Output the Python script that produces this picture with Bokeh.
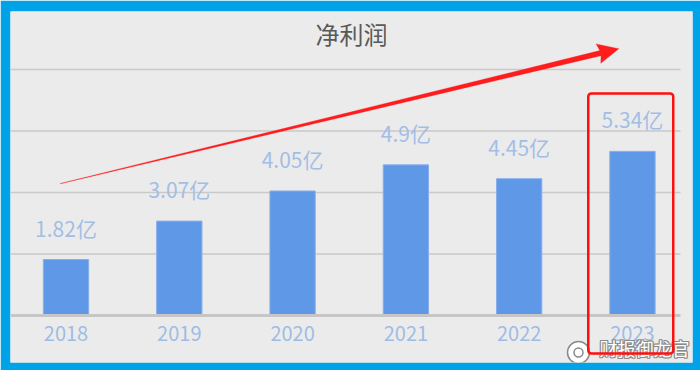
import math
from bokeh.plotting import figure
from bokeh.models import Range1d, BoxAnnotation, ColumnDataSource
from bokeh.core.properties import value
from bokeh.embed import file_html
from bokeh.resources import INLINE

# Net profit by year (unit: 亿 yuan)
years = ["2018", "2019", "2020", "2021", "2022", "2023"]
net_profit = [1.82, 3.07, 4.05, 4.9, 4.45, 5.34]
grid_values = [2, 4, 6, 8]
title_text = "净利润"
watermark = "财报御龙官"

value_labels = [f"{v:g}亿" for v in net_profit]
idx = list(range(len(years)))

FONT = value("Noto Sans CJK SC")
W, H = 700, 370
BL, BR, BT, BB = 10, 8, 11, 8
x0, x1 = -0.49, 5.53
y0, y1 = -1.53, 9.89
px_x = (W - BL - BR) / (x1 - x0)
px_y = (H - BT - BB) / (y1 - y0)

p = figure(width=W, height=H, output_backend="svg", toolbar_location=None,
           x_range=Range1d(x0, x1), y_range=Range1d(y0, y1),
           x_axis_type=None, y_axis_type=None,
           min_border_left=BL, min_border_right=BR,
           min_border_top=BT, min_border_bottom=BB,
           background_fill_color="#EBEBEB", border_fill_color="#00A3E8",
           outline_line_color=None)

# horizontal gridlines, stopping a little short of the right edge
grid_end = x1 - 12 / px_x
p.segment(x0=[x0] * len(grid_values), x1=[grid_end] * len(grid_values),
          y0=grid_values, y1=grid_values, line_color="#C9C9C9", line_width=1.5)

# bars
p.vbar(x=idx, top=net_profit, bottom=0, width=0.4,
       fill_color="#5E98E6", line_color="#88AFEA", line_width=1)

# baseline
p.segment(x0=[x0], x1=[grid_end], y0=[0], y1=[0], line_color="#C6C6C6", line_width=3)

# value labels above bars
p.text(x=idx, y=net_profit, text=value_labels, text_align="center",
       text_baseline="bottom", y_offset=-17, text_font=FONT,
       text_font_size="21px", text_color="#A3BEE5")

# year labels under the baseline
p.text(x=idx, y=[0] * len(idx), text=years, text_align="center",
       text_baseline="top", y_offset=11, text_font=FONT,
       text_font_size="20px", text_color="#9FBCE4")

# title
p.text(x=[(x0 + x1) / 2], y=[y1], text=[title_text], text_align="center",
       text_baseline="middle", y_offset=22, text_font=FONT,
       text_font_size="24px", text_color="#595959")

# tapered trend arrow
tail = (-0.05, 4.29)
tip = (4.88, 8.68)
tx, ty = tail[0] * px_x, tail[1] * px_y
hx, hy = tip[0] * px_x, tip[1] * px_y
L = math.hypot(hx - tx, hy - ty)
ux, uy = (hx - tx) / L, (hy - ty) / L
nx, ny = -uy, ux
head_len, head_half, shaft_tail, shaft_head = 19, 10, 0.2, 2.6
bx, by = hx - ux * head_len, hy - uy * head_len
pts = [
    (tx + nx * shaft_tail, ty + ny * shaft_tail),
    (bx + nx * shaft_head, by + ny * shaft_head),
    (bx + nx * head_half - ux * 2, by + ny * head_half - uy * 2),
    (hx, hy),
    (bx - nx * head_half - ux * 2, by - ny * head_half - uy * 2),
    (bx - nx * shaft_head, by - ny * shaft_head),
    (tx - nx * shaft_tail, ty - ny * shaft_tail),
]
p.patch(x=[a / px_x for a, _ in pts], y=[b / px_y for _, b in pts],
        fill_color="#FF1C1C", line_color="#FF1C1C", line_width=0.3)

# highlight box around the latest year
last = idx[-1]
p.add_layout(BoxAnnotation(left=last - 0.39, right=last + 0.36, top=7.22, bottom=-1.24,
                           fill_alpha=0, line_color="#FF1010", line_alpha=1.0,
                           line_width=2.5, border_radius=3))

# watermark: grey outline under white text
offs = [(-1, 0), (1, 0), (0, -1), (0, 1), (-1, -1), (1, 1), (-1, 1), (1, -1)]
wm = ColumnDataSource(dict(x=[x1] * len(offs), y=[y0] * len(offs), t=[watermark] * len(offs),
                           xo=[-3 + a for a, _ in offs], yo=[-2 + b for _, b in offs]))
p.text(x="x", y="y", text="t", x_offset="xo", y_offset="yo", source=wm,
       text_align="right", text_baseline="bottom", text_font=FONT,
       text_font_size="18px", text_color="#8A8A8A")
p.text(x=[x1], y=[y0], text=[watermark], x_offset=-3, y_offset=-2,
       text_align="right", text_baseline="bottom", text_font=FONT,
       text_font_size="18px", text_color="#FFFFFF")
logo_x = x1 - 114 / px_x
logo_y = y0 + 10 / px_y
p.scatter(x=[logo_x], y=[logo_y], size=22, marker="circle",
          fill_color="#FFFFFF", line_color="#8A8A8A", line_width=1.5)
p.scatter(x=[logo_x], y=[logo_y], size=9, marker="circle",
          fill_color="#FFFFFF", line_color="#8A8A8A", line_width=1.5)

open("out.html", "w").write(file_html(p, INLINE))
